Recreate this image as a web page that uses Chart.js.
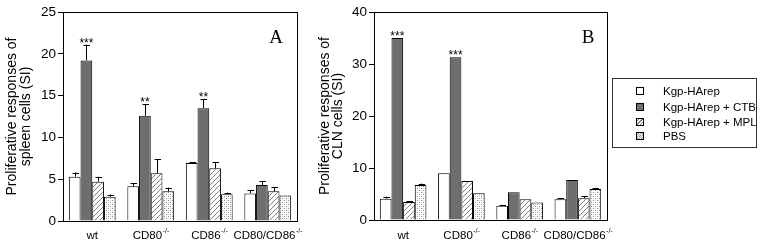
<!DOCTYPE html>
<html>
<head>
<meta charset="utf-8">
<script src="https://cdn.jsdelivr.net/npm/chart.js@4.4.1/dist/chart.umd.min.js"></script>
<style>
  body { margin: 0; background: #fff; font-family: Arial, "Liberation Sans", sans-serif; }
  #wrap { position: relative; width: 762px; height: 246px; overflow: hidden; }
  canvas { position: absolute; top: 0; }
  #chartA { left: 0; }
  #chartB { left: 305px; }
  #legend {
    position: absolute; left: 612px; top: 78px; width: 143px; height: 68px;
    border: 1px solid #333; font-size: 11.5px; color: #000;
  }
  .item { position: absolute; left: 0; height: 14px; line-height: 14px; white-space: nowrap; }
  .sw { position: absolute; left: 23px; top: 3px; width: 6px; height: 6px; border: 1px solid #000; }
  .lbl { position: absolute; left: 50px; top: 0; }
</style>
</head>
<body>
<div id="wrap">
  <canvas id="chartA" width="305" height="246"></canvas>
  <canvas id="chartB" width="310" height="246"></canvas>
  <div id="legend"></div>
</div>
<script>
// groups on the x axis, superscript part kept apart
const groups = ['wt', 'CD80', 'CD86', 'CD80/CD86'];
const groupSup = ['', '-/-', '-/-', '-/-'];
const seriesNames = ['Kgp-HArep', 'Kgp-HArep + CTB', 'Kgp-HArep + MPL', 'PBS'];

// panel A - spleen cells
const kgpA = [5.3, 4.15, 6.95, 3.3];
const ctbA = [19.2, 12.6, 13.5, 4.3];
const mplA = [4.7, 5.7, 6.3, 3.55];
const pbsA = [2.9, 3.55, 3.2, 3.05];
const kgpErrA = [0.5, 0.4, 0.1, 0.4];
const ctbErrA = [1.9, 1.4, 1.05, 0.5];
const mplErrA = [0.6, 1.7, 0.7, 0.5];
const pbsErrA = [0.25, 0.45, 0.2, 0];
const starsA = ['***', '**', '**', ''];

// panel B - CLN cells
const kgpB = [4.1, 9.0, 2.75, 4.0];
const ctbB = [35.0, 31.3, 5.33, 7.7];
const mplB = [3.45, 7.5, 4.0, 4.2];
const pbsB = [6.75, 5.15, 3.35, 5.97];
const kgpErrB = [0.4, 0, 0.2, 0.2];
const ctbErrB = [0, 0, 0, 0];
const mplErrB = [0.2, 0, 0, 0.4];
const pbsErrB = [0.25, 0, 0, 0.2];
const starsB = ['***', '***', '', ''];

const ticksA = [0, 5, 10, 15, 20, 25];
const ticksB = [0, 10, 20, 30, 40];

const GRAY = '#6e6e6e';

function hatchPattern() {
  const c = document.createElement('canvas');
  c.width = 5; c.height = 5;
  const g = c.getContext('2d');
  g.fillStyle = '#fff';
  g.fillRect(0, 0, 5, 5);
  g.strokeStyle = '#808080';
  g.lineWidth = 1;
  g.beginPath();
  g.moveTo(0, 5); g.lineTo(5, 0);
  g.moveTo(-1, 1); g.lineTo(1, -1);
  g.moveTo(4, 6); g.lineTo(6, 4);
  g.stroke();
  return g.createPattern(c, 'repeat');
}

function dotPattern() {
  const c = document.createElement('canvas');
  c.width = 4; c.height = 4;
  const g = c.getContext('2d');
  g.fillStyle = '#fff';
  g.fillRect(0, 0, 4, 4);
  g.fillStyle = '#8c8c8c';
  g.fillRect(0, 0, 1, 1);
  g.fillRect(2, 2, 1, 1);
  g.fillStyle = '#d0d0d0';
  g.fillRect(2, 0, 1, 1);
  g.fillRect(0, 2, 1, 1);
  return g.createPattern(c, 'repeat');
}

const fills = ['#fff', GRAY, hatchPattern(), dotPattern()];

// errors, stars, box, titles and x labels
const extras = {
  id: 'extras',
  afterDraw(chart, args, opts) {
    const ctx = chart.ctx;
    const area = chart.chartArea;
    const yScale = chart.scales.y;
    ctx.save();

    // error bars + stars
    ctx.strokeStyle = '#000';
    ctx.lineWidth = 1;
    chart.data.datasets.forEach((ds, i) => {
      const meta = chart.getDatasetMeta(i);
      meta.data.forEach((el, j) => {
        const err = opts.errs[i][j];
        let top = el.y;
        if (err > 0) {
          top = yScale.getPixelForValue(ds.data[j] + err);
          const x = Math.round(el.x) + 0.5;
          ctx.beginPath();
          ctx.moveTo(x, el.y);
          ctx.lineTo(x, top);
          ctx.moveTo(x - 3, Math.round(top) + 0.5);
          ctx.lineTo(x + 3.5, Math.round(top) + 0.5);
          ctx.stroke();
        }
        if (i === 1 && opts.stars[j]) {
          ctx.fillStyle = '#000';
          ctx.font = '12px Arial, "Liberation Sans"';
          ctx.textAlign = 'center';
          ctx.textBaseline = 'alphabetic';
          ctx.fillText(opts.stars[j], el.x, top + 2);
        }
      });
    });

    // frame
    ctx.strokeStyle = '#000';
    ctx.strokeRect(Math.round(area.left) + 0.5, Math.round(area.top) + 0.5,
      Math.round(area.right - area.left), Math.round(area.bottom - area.top));

    // x labels with superscript
    const xScale = chart.scales.x;
    ctx.fillStyle = '#000';
    ctx.textBaseline = 'alphabetic';
    ctx.textAlign = 'left';
    groups.forEach((g, j) => {
      const cx = xScale.getPixelForValue(j);
      ctx.font = '11.5px Arial, "Liberation Sans"';
      const w1 = ctx.measureText(g).width;
      ctx.font = '7px Arial, "Liberation Sans"';
      const w2 = groupSup[j] ? ctx.measureText(groupSup[j]).width : 0;
      const x0 = cx - (w1 + w2) / 2;
      ctx.font = '11.5px Arial, "Liberation Sans"';
      ctx.fillText(g, x0, 239);
      if (groupSup[j]) {
        ctx.font = '7px Arial, "Liberation Sans"';
        ctx.fillText(groupSup[j], x0 + w1 + 0.5, 233);
      }
    });

    // y title, two lines
    const cy = (area.top + area.bottom) / 2;
    ctx.font = '14px Arial, "Liberation Sans"';
    ctx.textAlign = 'center';
    ctx.textBaseline = 'middle';
    opts.title.forEach((t, k) => {
      ctx.save();
      ctx.translate(opts.titleX[k], cy);
      ctx.rotate(-Math.PI / 2);
      ctx.fillText(t, 0, 0);
      ctx.restore();
    });

    // panel letter
    ctx.font = '19px "Liberation Serif", "Times New Roman", serif';
    ctx.textAlign = 'center';
    ctx.textBaseline = 'middle';
    ctx.fillText(opts.letter, area.right - opts.letterDx, area.top + 26);

    ctx.restore();
  }
};

function makeChart(id, sets, errs, stars, ticks, yWidth, padBottom, title, titleX, letter, letterDx) {
  const datasets = sets.map((d, i) => ({
    label: seriesNames[i],
    data: d,
    backgroundColor: fills[i],
    borderColor: '#000',
    borderWidth: 1,
    categoryPercentage: 0.8,
    barPercentage: 1.0
  }));
  return new Chart(document.getElementById(id), {
    type: 'bar',
    data: { labels: groups, datasets: datasets },
    plugins: [extras],
    options: {
      responsive: false,
      animation: false,
      devicePixelRatio: 1,
      layout: { padding: { left: 0, right: 8, top: 12, bottom: padBottom } },
      plugins: {
        legend: { display: false },
        tooltip: { enabled: false },
        extras: { errs, stars, title, titleX, letter, letterDx }
      },
      scales: {
        x: {
          grid: { display: false },
          border: { display: false },
          ticks: { display: false },
          afterFit: s => { s.height = 0; }
        },
        y: {
          min: 0,
          max: ticks[ticks.length - 1],
          afterBuildTicks: s => { s.ticks = ticks.map(v => ({ value: v })); },
          grid: { drawOnChartArea: false, drawTicks: true, tickLength: 5, color: '#000' },
          border: { display: false },
          ticks: { color: '#000', padding: 2, font: { family: 'Arial, "Liberation Sans"', size: 13.5 } },
          afterFit: s => { s.width = yWidth; }
        }
      }
    }
  });
}

makeChart('chartA', [kgpA, ctbA, mplA, pbsA], [kgpErrA, ctbErrA, mplErrA, pbsErrA], starsA,
  ticksA, 63, 25, ['Proliferative responses of', 'spleen cells (SI)'], [12, 26], 'A', 21);
makeChart('chartB', [kgpB, ctbB, mplB, pbsB], [kgpErrB, ctbErrB, mplErrB, pbsErrB], starsB,
  ticksB, 69, 26, ['Proliferative responses of', 'CLN cells (SI)'], [20, 33], 'B', 19);

// legend
const swatchBg = [
  '#fff',
  GRAY,
  'repeating-linear-gradient(-45deg, #fff 0 1.5px, #808080 1.5px 2.5px)',
  'repeating-conic-gradient(#999 0 25%, #fff 0 50%) 0 0 / 2px 2px'
];
const legend = document.getElementById('legend');
const rowY = [5, 21, 36, 50];
seriesNames.forEach((n, i) => {
  const it = document.createElement('div');
  it.className = 'item';
  it.style.top = rowY[i] + 'px';
  it.innerHTML = '<span class="sw" style="background:' + swatchBg[i] + '"></span><span class="lbl">' + n + '</span>';
  legend.appendChild(it);
});
</script>
</body>
</html>
